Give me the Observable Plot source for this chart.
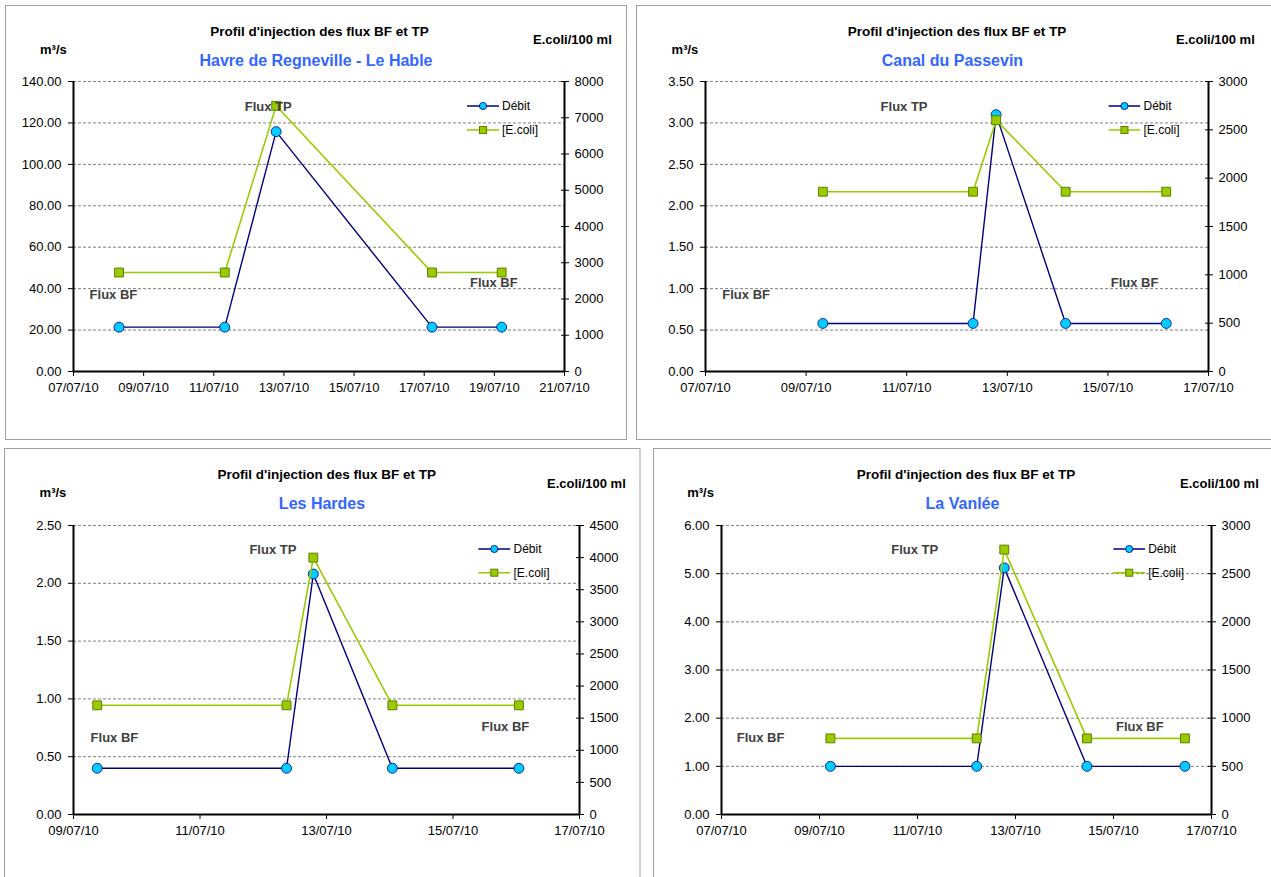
<!DOCTYPE html>
<html><head><meta charset="utf-8">
<script src="https://cdn.jsdelivr.net/npm/d3@7"></script>
<script src="https://cdn.jsdelivr.net/npm/@observablehq/plot@0.6"></script>
<style>
body{margin:0;background:#fff;}
#root{position:relative;width:1271px;height:877px;overflow:hidden;font-family:"Liberation Sans",Arial,sans-serif;background:#fff;}
#root svg{position:absolute;overflow:visible;}
</style></head><body><div id="root"></div>
<script>
// ---------- DATA ----------
const chartTitle = "Profil d'injection des flux BF et TP";
const leftUnit = "m³/s";
const rightUnit = "E.coli/100 ml";
const seriesNames = ["Débit", "[E.coli]"];
const labelTP = "Flux TP";
const labelBF = "Flux BF";

// Panel 1 : Havre de Regneville - Le Hable
const havreName = "Havre de Regneville - Le Hable";
const havreTimes = ["2010-07-08 07:10", "2010-07-11 07:30", "2010-07-12 18:40", "2010-07-17 05:20", "2010-07-19 05:00"];
const havreDebit = [21.4, 21.4, 115.8, 21.4, 21.4];
const havreEcoli = [2730, 2730, 7330, 2730, 2730];
const havreXDomain = ["2010-07-07", "2010-07-21"];
const havreYTicks = [0, 20, 40, 60, 80, 100, 120, 140];
const havreRTicks = [0, 1000, 2000, 3000, 4000, 5000, 6000, 7000, 8000];

// Panel 2 : Canal du Passevin
const passevinName = "Canal du Passevin";
const passevinTimes = ["2010-07-09 08:00", "2010-07-12 07:40", "2010-07-12 18:40", "2010-07-14 03:50", "2010-07-16 03:50"];
const passevinDebit = [0.58, 0.58, 3.10, 0.58, 0.58];
const passevinEcoli = [1860, 1860, 2600, 1860, 1860];
const passevinXDomain = ["2010-07-07", "2010-07-17"];
const passevinYTicks = [0, 0.5, 1, 1.5, 2, 2.5, 3, 3.5];
const passevinRTicks = [0, 500, 1000, 1500, 2000, 2500, 3000];

// Panel 3 : Les Hardes
const hardesName = "Les Hardes";
const hardesTimes = ["2010-07-09 09:00", "2010-07-12 08:50", "2010-07-12 19:00", "2010-07-14 01:00", "2010-07-16 01:00"];
const hardesDebit = [0.40, 0.40, 2.08, 0.40, 0.40];
const hardesEcoli = [1700, 1700, 4000, 1700, 1700];
const hardesXDomain = ["2010-07-09", "2010-07-17"];
const hardesYTicks = [0, 0.5, 1, 1.5, 2, 2.5];
const hardesRTicks = [0, 500, 1000, 1500, 2000, 2500, 3000, 3500, 4000, 4500];

// Panel 4 : La Vanlée
const vanleeName = "La Vanlée";
const vanleeTimes = ["2010-07-09 05:20", "2010-07-12 05:00", "2010-07-12 18:30", "2010-07-14 11:00", "2010-07-16 11:00"];
const vanleeDebit = [1.00, 1.00, 5.12, 1.00, 1.00];
const vanleeEcoli = [790, 790, 2750, 790, 790];
const vanleeXDomain = ["2010-07-07", "2010-07-17"];
const vanleeYTicks = [0, 1, 2, 3, 4, 5, 6];
const vanleeRTicks = [0, 500, 1000, 1500, 2000, 2500, 3000];

// ---------- LAYOUT (page pixels) ----------
// box: [left, top, width, height]; margins: [top, right, bottom, left]
const layouts = [
  {box: [5, 5, 622, 435], m: [76, 63, 69, 68], border: [5.5, 5.5, 621, 434],
   title: [319.5, 31], sub: [316, 60.3], unitL: [40, 49], unitR: [533, 39.3],
   leg: [467, 499, 502, 106, 130], tp: [244.7, 106], bfL: [89.6, 294], bfR: [470, 282.3]},
  {box: [636, 5, 635, 435], m: [76, 63, 69, 69], border: [636.5, 5.5, 640, 434],
   title: [957, 31], sub: [952.4, 60.3], unitL: [671.6, 49], unitR: [1176, 39.3],
   leg: [1108.7, 1140.2, 1143.5, 106, 130], tp: [880.6, 106], bfL: [722.3, 294], bfR: [1110.7, 282.3]},
  {box: [4, 448, 636, 429], m: [77, 61, 63, 69], border: [4.5, 448.5, 635.5, 440],
   title: [326.7, 474.3], sub: [322, 503.3], unitL: [39.6, 492.7], unitR: [547, 483.3],
   leg: [478.4, 510.2, 513.5, 549, 572.7], tp: [249.4, 549.3], bfL: [90.6, 737.3], bfR: [481.6, 726]},
  {box: [653, 448, 618, 429], m: [77, 60, 63, 68], border: [653.5, 448.5, 640, 440],
   title: [966, 474.3], sub: [962.5, 503.3], unitL: [687.2, 492.7], unitR: [1180, 483.3],
   leg: [1113.4, 1145, 1148.2, 549, 572.7], tp: [891.2, 549.3], bfL: [736.7, 737.3], bfR: [1116, 726]}
];

const panels = [
  {name: havreName, times: havreTimes, debit: havreDebit, ecoli: havreEcoli, xDomain: havreXDomain, yTicks: havreYTicks, rTicks: havreRTicks},
  {name: passevinName, times: passevinTimes, debit: passevinDebit, ecoli: passevinEcoli, xDomain: passevinXDomain, yTicks: passevinYTicks, rTicks: passevinRTicks},
  {name: hardesName, times: hardesTimes, debit: hardesDebit, ecoli: hardesEcoli, xDomain: hardesXDomain, yTicks: hardesYTicks, rTicks: hardesRTicks},
  {name: vanleeName, times: vanleeTimes, debit: vanleeDebit, ecoli: vanleeEcoli, xDomain: vanleeXDomain, yTicks: vanleeYTicks, rTicks: vanleeRTicks}
];

// ---------- STYLE ----------
const FONT = '"Liberation Sans", Arial, sans-serif';
const debitColor = "#000080", debitFill = "#00CCFF";
const ecoliColor = "#99CC00", ecoliStroke = "#5F7F00";
const subColor = "#3366FF";
const gridColor = "#808080";

const parseT = d3.utcParse("%Y-%m-%d %H:%M");
const parseD = d3.utcParse("%Y-%m-%d");
const fmtDate = d3.utcFormat("%d/%m/%y");
const root = document.getElementById("root");

panels.forEach((p, i) => {
  const L = layouts[i];
  const yMax = p.yTicks[p.yTicks.length - 1];
  const rMax = p.rTicks[p.rTicks.length - 1];
  const k = yMax / rMax;
  const x0 = parseD(p.xDomain[0]), x1 = parseD(p.xDomain[1]);
  const xTicks = d3.utcDay.range(x0, d3.utcDay.offset(x1, 1), 2);
  const rows = p.times.map((t, j) => ({t: parseT(t), q: p.debit[j], e: p.ecoli[j] * k}));
  const svg = Plot.plot({
    width: L.box[2], height: L.box[3],
    marginTop: L.m[0], marginRight: L.m[1], marginBottom: L.m[2], marginLeft: L.m[3],
    style: {fontFamily: FONT, fontSize: "13px", color: "#000", background: "transparent"},
    x: {type: "utc", domain: [x0, x1], label: null},
    y: {domain: [0, yMax], label: null},
    marks: [
      Plot.gridY(p.yTicks.filter(v => v > 0), {stroke: gridColor, strokeOpacity: 1, strokeDasharray: "3,2", strokeWidth: 1}),
      Plot.axisX({ticks: xTicks, tickFormat: fmtDate, tickSize: 5, tickPadding: 6, label: null}),
      Plot.axisY({anchor: "left", ticks: p.yTicks, tickFormat: d => d.toFixed(2), tickSize: 5, tickPadding: 7, label: null}),
      Plot.axisY({anchor: "right", ticks: p.rTicks.map(v => v * k), tickFormat: d => String(Math.round(d / k)), tickSize: 8, insetRight: 4, tickPadding: 6, label: null}),
      Plot.ruleX([x0, x1], {stroke: "#000", strokeWidth: 2}),
      Plot.ruleY([0], {stroke: "#000", strokeWidth: 2}),
      Plot.line(rows, {x: "t", y: "q", stroke: debitColor, strokeWidth: 1.4}),
      Plot.dot(rows, {x: "t", y: "q", r: 5, fill: debitFill, stroke: debitColor, strokeWidth: 0.8}),
      Plot.line(rows, {x: "t", y: "e", stroke: ecoliColor, strokeWidth: 1.6}),
      Plot.dot(rows, {x: "t", y: "e", symbol: "square", r: 5, fill: ecoliColor, stroke: ecoliStroke, strokeWidth: 1})
    ]
  });
  svg.style.left = L.box[0] + "px";
  svg.style.top = L.box[1] + "px";
  root.appendChild(svg);
});

// ---------- OVERLAY (frames, titles, legends, annotations) ----------
const ov = d3.select(root).append("svg")
  .attr("width", 1271).attr("height", 877)
  .style("left", "0px").style("top", "0px")
  .style("font-family", FONT).style("pointer-events", "none");

function txt(x, y, s, {size = 13, weight = "bold", fill = "#000", anchor = "start"} = {}) {
  ov.append("text").attr("x", x).attr("y", y + size * 0.36)
    .attr("font-size", size).attr("font-weight", weight).attr("fill", fill)
    .attr("text-anchor", anchor).text(s);
}

panels.forEach((p, i) => {
  const L = layouts[i];
  ov.append("rect").attr("x", L.border[0]).attr("y", L.border[1])
    .attr("width", L.border[2]).attr("height", L.border[3])
    .attr("fill", "none").attr("stroke", "#A0A0A0").attr("stroke-width", 1);
  txt(L.title[0], L.title[1], chartTitle, {size: 13.5, anchor: "middle"});
  txt(L.sub[0], L.sub[1], p.name, {size: 16, fill: subColor, anchor: "middle"});
  txt(L.unitL[0], L.unitL[1], leftUnit, {size: 13});
  txt(L.unitR[0], L.unitR[1], rightUnit, {size: 13});
  txt(L.tp[0], L.tp[1], labelTP, {size: 13, fill: "#404040"});
  txt(L.bfL[0], L.bfL[1], labelBF, {size: 13, fill: "#404040"});
  txt(L.bfR[0], L.bfR[1], labelBF, {size: 13, fill: "#404040"});
  const [lx0, lx1, tx, y1, y2] = L.leg;
  const mx = (lx0 + lx1) / 2;
  ov.append("line").attr("x1", lx0).attr("x2", lx1).attr("y1", y1).attr("y2", y1).attr("stroke", debitColor).attr("stroke-width", 1.5);
  ov.append("circle").attr("cx", mx).attr("cy", y1).attr("r", 3.6).attr("fill", debitFill).attr("stroke", debitColor).attr("stroke-width", 0.8);
  txt(tx, y1, seriesNames[0], {size: 12, weight: "normal"});
  ov.append("line").attr("x1", lx0).attr("x2", lx1).attr("y1", y2).attr("y2", y2).attr("stroke", ecoliColor).attr("stroke-width", 1.6);
  ov.append("rect").attr("x", mx - 3.5).attr("y", y2 - 3.5).attr("width", 7).attr("height", 7).attr("fill", ecoliColor).attr("stroke", ecoliStroke).attr("stroke-width", 1);
  txt(tx, y2, seriesNames[1], {size: 12, weight: "normal"});
});
</script></body></html>
